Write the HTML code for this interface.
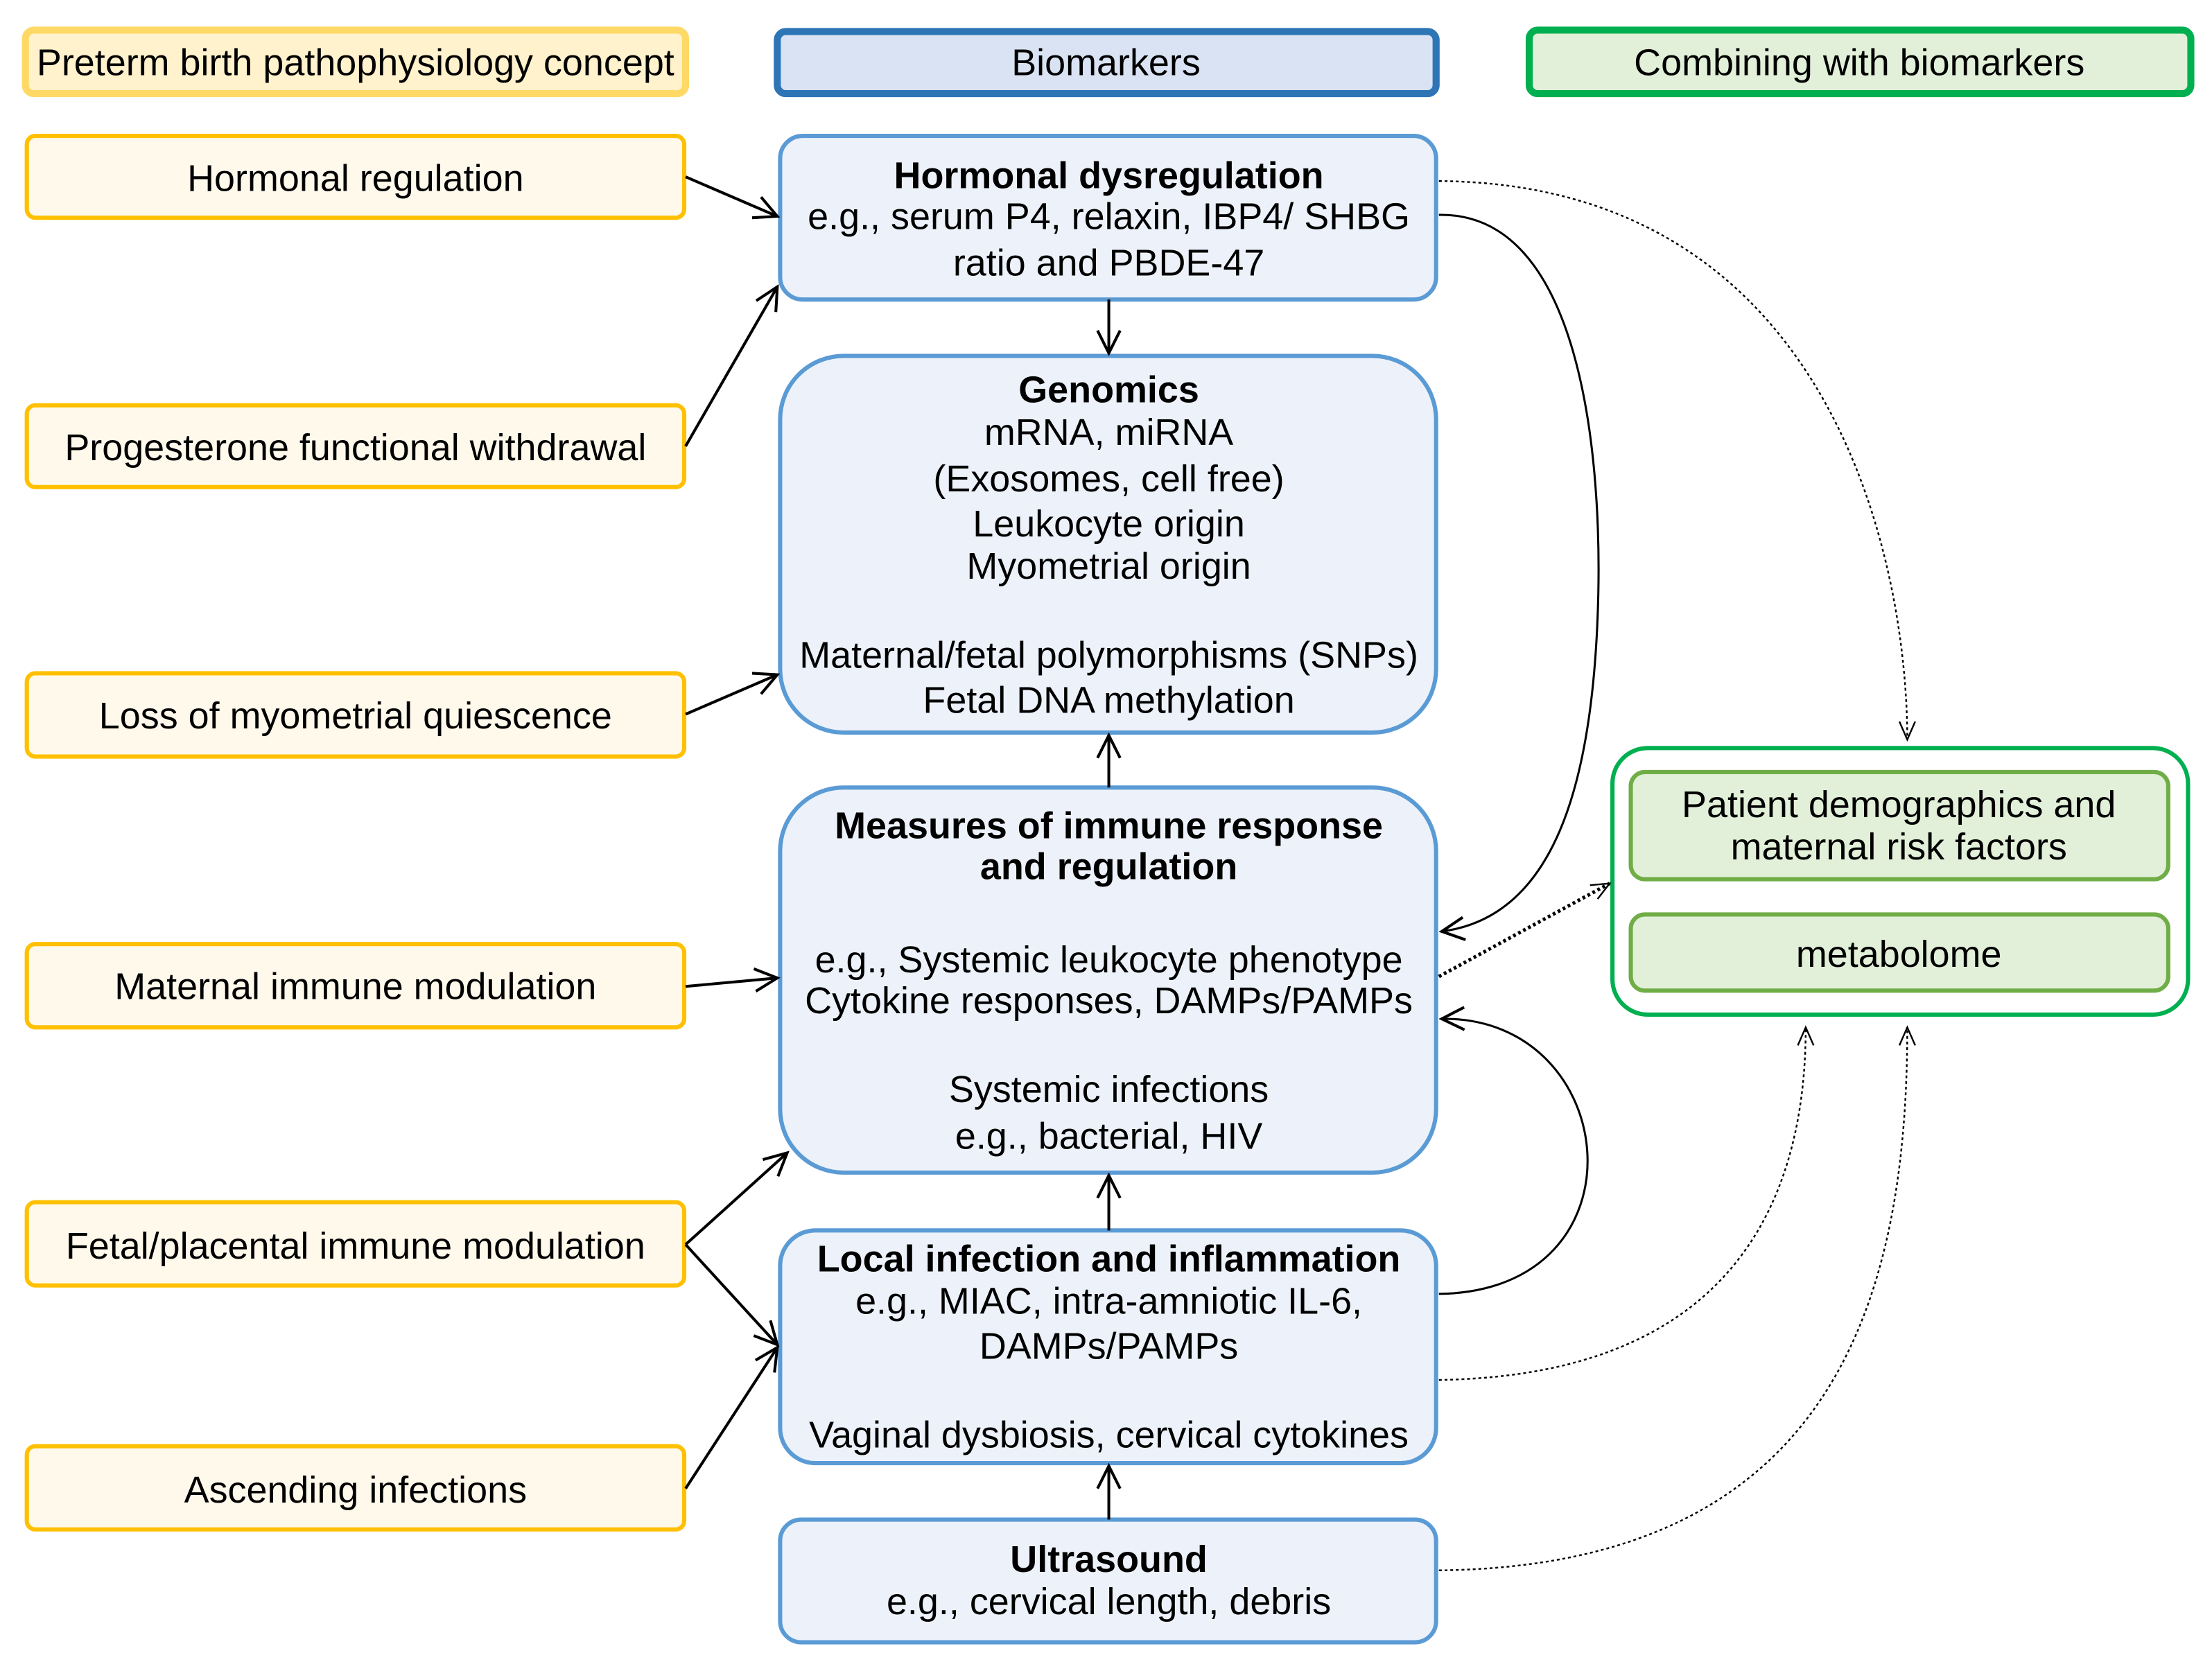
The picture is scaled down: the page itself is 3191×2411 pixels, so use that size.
<!DOCTYPE html>
<html><head><meta charset="utf-8"><style>
html,body{margin:0;padding:0;background:#fff}
svg{display:block}
text{font-family:"Liberation Sans",Arial,sans-serif;font-size:26.5px;fill:#000;text-anchor:middle}
.b{font-weight:bold}
</style></head><body>
<svg width="3191" height="2411" viewBox="0 0 1568 1184" xmlns="http://www.w3.org/2000/svg">
<defs>
<marker id="a" viewBox="0 0 20 20" refX="18" refY="10" markerWidth="20" markerHeight="20" markerUnits="userSpaceOnUse" orient="auto">
<path d="M2,2 L18,10 L2,18" fill="none" stroke="#000" stroke-width="2"/></marker>
<marker id="s" viewBox="0 0 20 20" refX="18" refY="10" markerWidth="16" markerHeight="16" markerUnits="userSpaceOnUse" orient="auto">
<path d="M2,3 L18,10 L2,17" fill="none" stroke="#000" stroke-width="1.5"/></marker>
</defs>
<rect x="18" y="21" width="468" height="45" rx="6" fill="#fff2cc" stroke="#ffd966" stroke-width="5"/>
<text x="252" y="53">Preterm birth pathophysiology concept</text>
<rect x="551" y="22" width="467" height="44" rx="6" fill="#dae3f3" stroke="#2e75b6" stroke-width="5"/>
<text x="784" y="53">Biomarkers</text>
<rect x="1084" y="21" width="469" height="45" rx="6" fill="#e2f0d9" stroke="#00b050" stroke-width="5"/>
<text x="1318" y="53">Combining with biomarkers</text>
<g fill="#fff9ec" stroke="#ffc000" stroke-width="3">
<rect x="19" y="96" width="466" height="58" rx="6"/>
<rect x="19" y="287" width="466" height="58" rx="6"/>
<rect x="19" y="477" width="466" height="59" rx="6"/>
<rect x="19" y="669" width="466" height="59" rx="6"/>
<rect x="19" y="852" width="466" height="59" rx="6"/>
<rect x="19" y="1025" width="466" height="59" rx="6"/>
</g>
<text x="252" y="135">Hormonal regulation</text>
<text x="252" y="326">Progesterone functional withdrawal</text>
<text x="252" y="516">Loss of myometrial quiescence</text>
<text x="252" y="708">Maternal immune modulation</text>
<text x="252" y="892">Fetal/placental immune modulation</text>
<text x="252" y="1065">Ascending infections</text>
<g fill="#edf2fa" stroke="#5b9bd5" stroke-width="3">
<rect x="553" y="96" width="465" height="116" rx="16"/>
<rect x="553" y="252" width="465" height="267" rx="45"/>
<rect x="553" y="558" width="465" height="273" rx="45"/>
<rect x="553" y="872" width="465" height="165" rx="25"/>
<rect x="553" y="1077" width="465" height="87" rx="15"/>
</g>
<text x="786" y="133" class="b">Hormonal dysregulation</text>
<text x="786" y="162">e.g., serum P4, relaxin, IBP4/ SHBG</text>
<text x="786" y="195">ratio and PBDE-47</text>
<text x="786" y="285" class="b">Genomics</text>
<text x="786" y="315">mRNA, miRNA</text>
<text x="786" y="348">(Exosomes, cell free)</text>
<text x="786" y="380">Leukocyte origin</text>
<text x="786" y="410">Myometrial origin</text>
<text x="786" y="473">Maternal/fetal polymorphisms (SNPs)</text>
<text x="786" y="505">Fetal DNA methylation</text>
<text x="786" y="594" class="b">Measures of immune response</text>
<text x="786" y="623" class="b">and regulation</text>
<text x="786" y="689">e.g., Systemic leukocyte phenotype</text>
<text x="786" y="718">Cytokine responses, DAMPs/PAMPs</text>
<text x="786" y="781">Systemic infections</text>
<text x="786" y="814">e.g., bacterial, HIV</text>
<text x="786" y="901" class="b">Local infection and inflammation</text>
<text x="786" y="931">e.g., MIAC, intra-amniotic IL-6,</text>
<text x="786" y="963">DAMPs/PAMPs</text>
<text x="786" y="1026">Vaginal dysbiosis, cervical cytokines</text>
<text x="786" y="1114" class="b">Ultrasound</text>
<text x="786" y="1144">e.g., cervical length, debris</text>
<rect x="1143" y="530" width="408" height="189" rx="25" fill="#fff" stroke="#00b050" stroke-width="3"/>
<rect x="1156" y="547" width="381" height="76" rx="10" fill="#e2f0d9" stroke="#70ad47" stroke-width="3"/>
<rect x="1156" y="648" width="381" height="54" rx="10" fill="#e2f0d9" stroke="#70ad47" stroke-width="3"/>
<text x="1346" y="579">Patient demographics and</text>
<text x="1346" y="609">maternal risk factors</text>
<text x="1346" y="685">metabolome</text>
<g stroke="#000" stroke-width="2" fill="none" marker-end="url(#a)">
<line x1="486" y1="125" x2="551" y2="153"/>
<line x1="486" y1="316" x2="551" y2="203"/>
<line x1="486" y1="506" x2="551" y2="478"/>
<line x1="486" y1="699" x2="551" y2="693"/>
<line x1="486" y1="882" x2="558" y2="817"/>
<line x1="486" y1="882" x2="551" y2="953"/>
<line x1="486" y1="1055" x2="551" y2="955"/>
<line x1="786" y1="212" x2="786" y2="250"/>
<line x1="786" y1="558" x2="786" y2="521"/>
<line x1="786" y1="872" x2="786" y2="833"/>
<line x1="786" y1="1077" x2="786" y2="1039"/>
</g>
<g stroke="#000" stroke-width="1.5" fill="none" marker-end="url(#a)">
<path d="M1020,152 C1120,150 1135,320 1133,420 C1130,560 1100,650 1022,660"/>
<path d="M1020,917 C1170,915 1150,720 1022,722"/>
</g>
<g stroke="#000" stroke-width="1.2" fill="none" stroke-dasharray="2,2" marker-end="url(#s)">
<path d="M1020,128 C1300,130 1352,400 1352,524"/>
<path d="M1020,978 C1220,975 1280,860 1280,728"/>
<path d="M1020,1113 C1300,1110 1352,920 1352,728"/>
</g>
<line x1="1020" y1="692" x2="1141" y2="626" stroke="#000" stroke-width="2.5" stroke-dasharray="2,2" marker-end="url(#s)"/>
</svg>
</body></html>
